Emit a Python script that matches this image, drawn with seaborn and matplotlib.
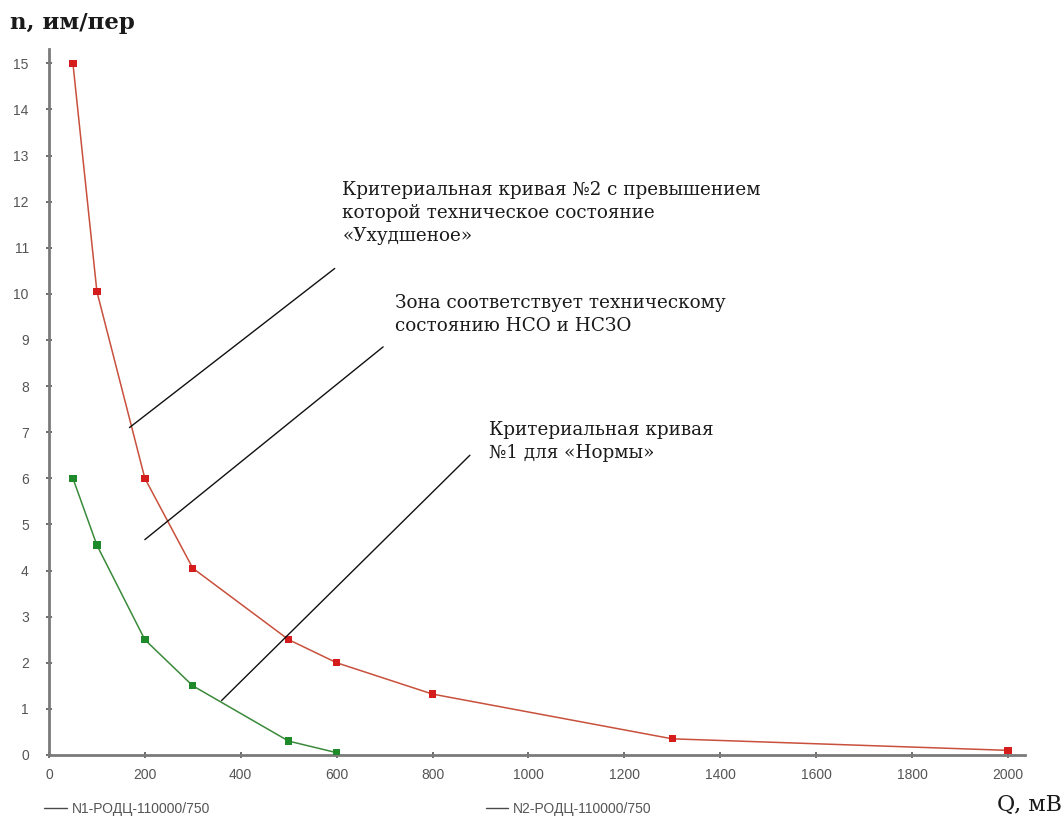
import matplotlib
matplotlib.use("Agg")
import matplotlib.pyplot as plt
import seaborn as sns
import pandas as pd
from matplotlib.lines import Line2D

# Criterion curves: pulse rate n versus discharge magnitude Q
q_n1 = [50, 100, 200, 300, 500, 600]
n_n1 = [6.0, 4.55, 2.5, 1.5, 0.3, 0.05]

q_n2 = [50, 100, 200, 300, 500, 600, 800, 1300, 2000]
n_n2 = [15.0, 10.05, 6.0, 4.05, 2.5, 2.0, 1.32, 0.35, 0.1]

series_names = ["N1-РОДЦ-110000/750", "N2-РОДЦ-110000/750"]
line_colors = ["#3a8a3a", "#c8503c"]
marker_colors = ["#1f8a2a", "#d41c1c"]

x_ticks = list(range(0, 2001, 200))
y_ticks = list(range(0, 16))

# Callout texts and their leader lines (data coordinates)
notes = [
    "Критериальная кривая №2 с превышением\nкоторой техническое состояние\n«Ухудшеное»",
    "Зона соответствует техническому\nсостоянию НСО и НСЗО",
    "Критериальная кривая\n№1 для «Нормы»",
]
note_pos = [(612, 12.45), (722, 10.0), (918, 7.25)]
leader_x = [(168, 596), (200, 697), (360, 878)]
leader_y = [(7.1, 10.55), (4.67, 8.85), (1.18, 6.5)]

df = pd.concat([
    pd.DataFrame({"Q": q_n1, "n": n_n1, "series": series_names[0]}),
    pd.DataFrame({"Q": q_n2, "n": n_n2, "series": series_names[1]}),
])

sns.set_theme(style="white")
plt.rcParams["font.family"] = ["Liberation Sans", "DejaVu Sans"]
serif = ["DejaVu Serif", "Liberation Serif"]

fig = plt.figure(figsize=(10.64, 8.31), dpi=100)
ax = fig.add_axes([0.046, 0.0915, 0.917, 0.849])

sns.lineplot(data=df, x="Q", y="n", hue="series", palette=line_colors,
             linewidth=1.1, legend=False, ax=ax, sort=False)
sns.scatterplot(data=df, x="Q", y="n", hue="series", palette=marker_colors,
                marker="s", s=28, linewidth=0, legend=False, ax=ax, zorder=3)

for lx, ly in zip(leader_x, leader_y):
    ax.plot(lx, ly, color="#111111", linewidth=1.0, zorder=4)

for txt, (tx, ty) in zip(notes, note_pos):
    ax.text(tx, ty, txt, ha="left", va="top", fontsize=13.2,
            family=serif, color="#1a1a1a", linespacing=1.35)

ax.set_xlim(0, 2035)
ax.set_ylim(0, 15.3)
ax.set_xticks(x_ticks)
ax.set_yticks(y_ticks)
ax.set_xlabel("")
ax.set_ylabel("")

for side in ["top", "right"]:
    ax.spines[side].set_visible(False)
for side in ["left", "bottom"]:
    ax.spines[side].set_color("#7a7a7a")
    ax.spines[side].set_linewidth(2.0)

ax.tick_params(axis="both", which="major", direction="inout", length=5,
               width=1.2, color="#555555", labelsize=10, labelcolor="#555555",
               left=True, bottom=True)
ax.tick_params(axis="y", pad=12)
ax.tick_params(axis="x", pad=7)

fig.text(0.009, 0.972, "n, им/пер", fontsize=16.5, fontweight="bold",
         family=serif, ha="left", va="center", color="#1a1a1a")
fig.text(0.998, 0.018, "Q, мВ", fontsize=16, family=serif,
         ha="right", va="bottom", color="#1a1a1a")

handles = [Line2D([0], [0], color="#4a4a4a", linewidth=1.0) for _ in line_colors]
fig.legend(handles, series_names, loc="lower left", bbox_to_anchor=(0.03, 0.003),
           ncol=2, frameon=False, fontsize=10, labelcolor="#555555",
           handlelength=1.6, handletextpad=0.4, columnspacing=19.8)

fig.savefig("out.png", dpi=100, facecolor="white")
